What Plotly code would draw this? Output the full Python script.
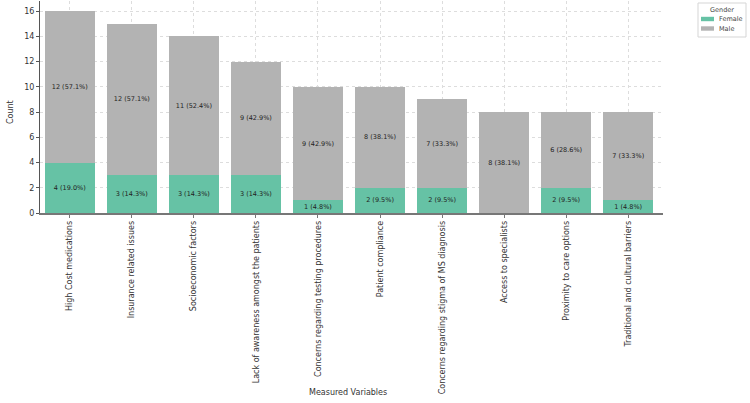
import plotly.graph_objects as go

categories = ["High Cost medications", "Insurance related issues", "Socioeconomic factors",
              "Lack of awareness amongst the patients", "Concerns regarding testing procedures",
              "Patient compliance", "Concerns regarding stigma of MS diagnosis",
              "Access to specialists", "Proximity to care options", "Traditional and cultural barriers"]
female = [4, 3, 3, 3, 1, 2, 2, 0, 2, 1]
female_pct = [19.0, 14.3, 14.3, 14.3, 4.8, 9.5, 9.5, 0.0, 9.5, 4.8]
male = [12, 12, 11, 9, 9, 8, 7, 8, 6, 7]
male_pct = [57.1, 57.1, 52.4, 42.9, 42.9, 38.1, 33.3, 38.1, 28.6, 33.3]
y_ticks = [0, 2, 4, 6, 8, 10, 12, 14, 16]
series_names = ["Female", "Male"]
series_colors = ["#66c2a5", "#b3b3b3"]

FONT = "DejaVu Sans"
W, H = 750, 403
ML, MR, MT, MB = 40, 87, 1, 190
PW, PH = W - ML - MR, H - MT - MB


def labels(vals, pcts):
    return [f"{v} ({p:.1f}%)" if v > 0 else "" for v, p in zip(vals, pcts)]


def px(x):
    return (x - ML) / PW


def py(y):
    return (H - MB - y) / PH


fig = go.Figure()
for name, color, vals, pcts in zip(series_names, series_colors, [female, male], [female_pct, male_pct]):
    fig.add_trace(go.Bar(x=categories, y=vals, name=name, marker_color=color,
                         marker_line_width=0, text=labels(vals, pcts),
                         textposition="inside", insidetextanchor="middle", textangle=0,
                         constraintext="none", showlegend=False,
                         textfont=dict(family=FONT, size=6.5, color="#222222")))

# compact legend (matplotlib style)
shapes = [dict(type="rect", xref="paper", yref="paper", x0=px(698), x1=px(746),
               y0=py(37), y1=py(3), line=dict(color="#d5d5d5", width=1), fillcolor="white",
               layer="above")]
annotations = [dict(text="Gender", xref="paper", yref="paper", x=px(722), y=py(9.5),
                    xanchor="center", yanchor="middle", showarrow=False,
                    font=dict(family=FONT, size=6.5, color="#444444"))]
for i, (name, color) in enumerate(zip(series_names, series_colors)):
    cy = 19 + i * 9.5
    shapes.append(dict(type="rect", xref="paper", yref="paper", x0=px(701), x1=px(714),
                       y0=py(cy + 2.2), y1=py(cy - 2.2), line=dict(width=0), fillcolor=color,
                       layer="above"))
    annotations.append(dict(text=name, xref="paper", yref="paper", x=px(717), y=py(cy),
                            xanchor="left", yanchor="middle", showarrow=False,
                            font=dict(family=FONT, size=6.5, color="#444444")))

annotations += [
    dict(text="Measured Variables", xref="paper", yref="paper", x=px(348), y=py(392),
         xanchor="center", yanchor="middle", showarrow=False,
         font=dict(family=FONT, size=8, color="#333333")),
    dict(text="Count", xref="paper", yref="paper", x=px(10), y=py(112), textangle=-90,
         xanchor="center", yanchor="middle", showarrow=False,
         font=dict(family=FONT, size=8, color="#333333")),
]

fig.update_layout(
    barmode="stack", bargap=0.2,
    width=W, height=H,
    margin=dict(l=ML, r=MR, t=MT, b=MB, autoexpand=False),
    paper_bgcolor="white", plot_bgcolor="white",
    font=dict(family=FONT, size=8, color="#333333"),
    showlegend=False,
    xaxis=dict(range=[-0.48, 9.56], tickangle=-90, showgrid=True, gridcolor="#dddddd",
               griddash="dot", gridwidth=1, showline=True, linecolor="#777777", linewidth=1.5,
               ticks="outside", ticklen=3, tickcolor="#777777",
               tickfont=dict(family=FONT, size=8, color="#333333")),
    yaxis=dict(range=[0, 16.8], tickvals=y_ticks, showgrid=True, gridcolor="#dddddd",
               griddash="dot", gridwidth=1, showline=True, linecolor="#555555", linewidth=1,
               ticks="outside", ticklen=3, tickcolor="#555555", zeroline=False,
               tickfont=dict(family=FONT, size=8, color="#333333")),
    shapes=shapes,
    annotations=annotations,
)

fig.write_html("out.html")
